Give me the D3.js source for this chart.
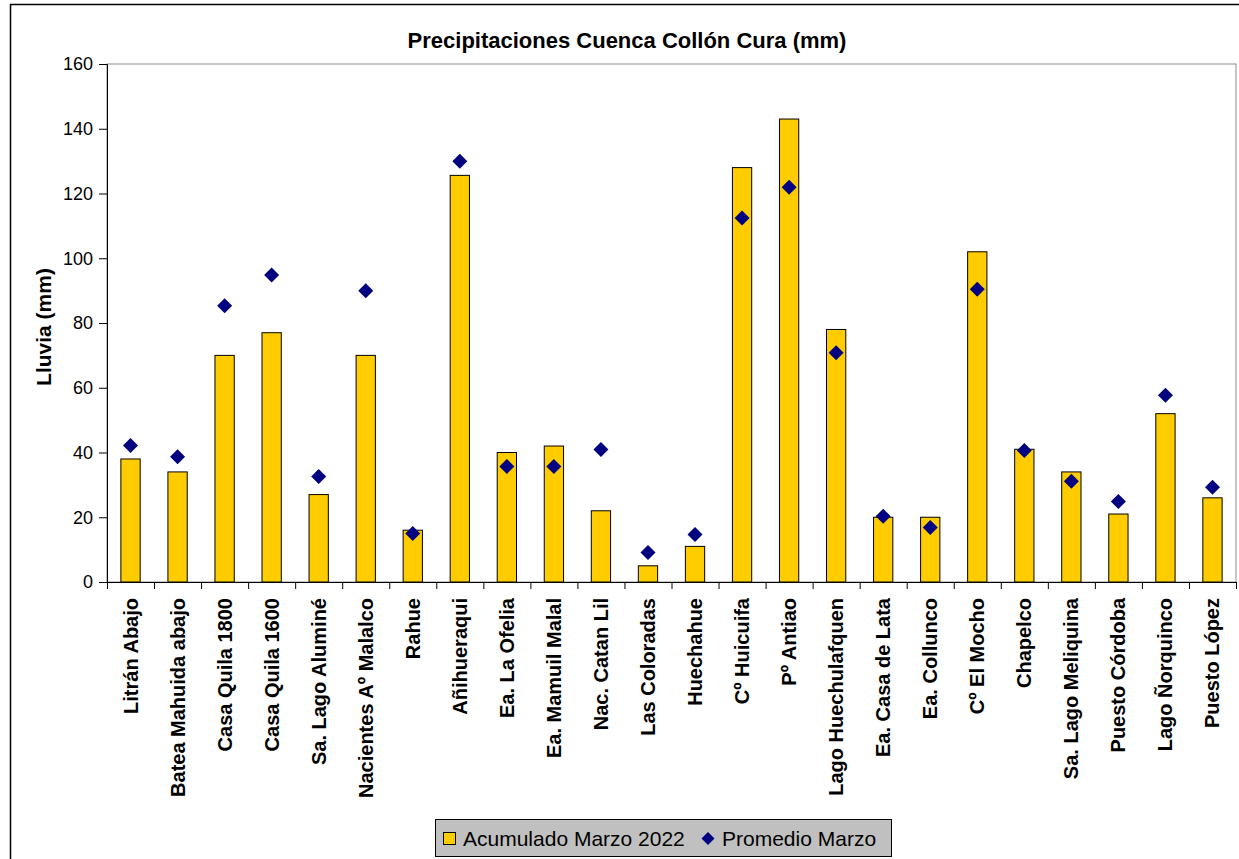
<!DOCTYPE html>
<html>
<head>
<meta charset="utf-8">
<script src="https://cdn.jsdelivr.net/npm/d3@7"></script>
<style>
  body { margin: 0; background: #fff; }
  svg { display: block; font-family: Arial, "Liberation Sans", sans-serif; }
</style>
</head>
<body>
<svg id="chart" width="1239" height="859"></svg>
<script>
const stations = ['Litrán Abajo', 'Batea Mahuida abajo', 'Casa Quila 1800', 'Casa Quila 1600', 'Sa. Lago Aluminé',
    'Nacientes Aº Malalco', 'Rahue', 'Añihueraqui', 'Ea. La Ofelia', 'Ea. Mamuil Malal', 'Nac. Catan Lil',
    'Las Coloradas', 'Huechahue', 'Cº Huicuifa', 'Pº Antiao', 'Lago Huechulafquen', 'Ea. Casa de Lata',
    'Ea. Collunco', 'Cº El Mocho', 'Chapelco', 'Sa. Lago Meliquina', 'Puesto Córdoba', 'Lago Ñorquinco', 'Puesto López'];
const acumulado = [38, 34, 70, 77, 27, 70, 16, 125.6, 40, 42, 22, 5, 11, 128, 143, 78, 20, 20, 102, 41, 34, 21, 52, 26];
const promedio = [42.2, 38.7, 85.3, 94.8, 32.6, 90, 15, 130, 35.7, 35.7, 40.9, 9.1, 14.7, 112.4, 121.9, 70.8, 20.3, 16.8, 90.4, 40.6, 31.1, 24.9, 57.7, 29.3];
const yTicks = [0, 20, 40, 60, 80, 100, 120, 140, 160];
const seriesNames = ['Acumulado Marzo 2022', 'Promedio Marzo'];

const svg = d3.select('#chart');
const plot = { left: 107, right: 1236, top: 64, bottom: 582 };

// outer chart frame
svg.append('rect').attr('x', 10.5).attr('y', 4.5).attr('width', 1260).attr('height', 900)
    .attr('fill', '#fff').attr('stroke', '#000').attr('stroke-width', 1.5);

const xs = d3.scaleBand().domain(stations).range([plot.left, plot.right]).paddingInner(0).paddingOuter(0);
const ys = d3.scaleLinear().domain([0, 160]).range([plot.bottom, plot.top]);
const barW = xs.bandwidth() * 0.41;

// plot area frame
svg.append('rect').attr('x', plot.left).attr('y', plot.top)
    .attr('width', plot.right - plot.left).attr('height', plot.bottom - plot.top)
    .attr('fill', 'none').attr('stroke', '#8c8c8c').attr('stroke-width', 1);

svg.append('g')
    .selectAll('rect')
    .data(acumulado)
    .enter()
    .append('rect')
    .attr('x', (d, i) => xs(stations[i]) + (xs.bandwidth() - barW) / 2)
    .attr('y', d => ys(d))
    .attr('width', barW)
    .attr('height', d => ys(0) - ys(d))
    .attr('fill', '#FFCC00')
    .attr('stroke', '#000')
    .attr('stroke-width', 1);

const diamond = 'M0,-7.5L7.5,0L0,7.5L-7.5,0Z';
svg.append('g')
    .selectAll('path')
    .data(promedio)
    .enter()
    .append('path')
    .attr('d', diamond)
    .attr('transform', (d, i) => `translate(${xs(stations[i]) + xs.bandwidth() / 2},${ys(d)})`)
    .attr('fill', '#000080');

// y axis
const yAxis = svg.append('g')
    .attr('transform', `translate(${plot.left},0)`)
    .call(d3.axisLeft(ys).tickValues(yTicks).tickSize(8).tickPadding(6));
yAxis.select('.domain').attr('stroke', '#000');
yAxis.selectAll('.tick line').attr('stroke', '#000');
yAxis.selectAll('text').attr('font-size', 18).attr('fill', '#000').attr('font-family', 'Arial, "Liberation Sans", sans-serif');

// x axis: ticks between categories
const xAxisG = svg.append('g');
xAxisG.append('line').attr('x1', plot.left).attr('x2', plot.right)
    .attr('y1', plot.bottom + 0.5).attr('y2', plot.bottom + 0.5).attr('stroke', '#000');
xAxisG.selectAll('line.tk')
    .data(stations.concat(['end']))
    .enter()
    .append('line')
    .attr('class', 'tk')
    .attr('x1', (d, i) => plot.left + i * xs.step() + 0.5)
    .attr('x2', (d, i) => plot.left + i * xs.step() + 0.5)
    .attr('y1', plot.bottom)
    .attr('y2', plot.bottom + 7)
    .attr('stroke', '#000');
xAxisG.selectAll('text')
    .data(stations)
    .enter()
    .append('text')
    .attr('transform', d => `translate(${xs(d) + xs.bandwidth() / 2 + 7},${plot.bottom + 16}) rotate(-90)`)
    .attr('text-anchor', 'end')
    .attr('font-size', 20)
    .attr('font-weight', 'bold')
    .text(d => d);

// title and axis label
svg.append('text').attr('x', 627).attr('y', 48).attr('text-anchor', 'middle')
    .attr('font-size', 22).attr('font-weight', 'bold').text('Precipitaciones Cuenca Collón Cura (mm)');
svg.append('text').attr('transform', 'translate(51,327) rotate(-90)').attr('text-anchor', 'middle')
    .attr('font-size', 21).attr('font-weight', 'bold').text('Lluvia (mm)');

// legend
const legend = svg.append('g');
legend.append('rect').attr('x', 435.5).attr('y', 819.5).attr('width', 456).attr('height', 37)
    .attr('fill', '#c0c0c0').attr('stroke', '#000').attr('stroke-width', 1);
legend.append('rect').attr('x', 443.5).attr('y', 832.5).attr('width', 12).attr('height', 12)
    .attr('fill', '#FFCC00').attr('stroke', '#000');
legend.append('text').attr('x', 463).attr('y', 846).attr('font-size', 21).text(seriesNames[0]);
legend.append('path').attr('d', 'M0,-6.5L6.5,0L0,6.5L-6.5,0Z').attr('transform', 'translate(708,838.5)').attr('fill', '#000080');
legend.append('text').attr('x', 722).attr('y', 846).attr('font-size', 21).text(seriesNames[1]);
</script>
</body>
</html>
